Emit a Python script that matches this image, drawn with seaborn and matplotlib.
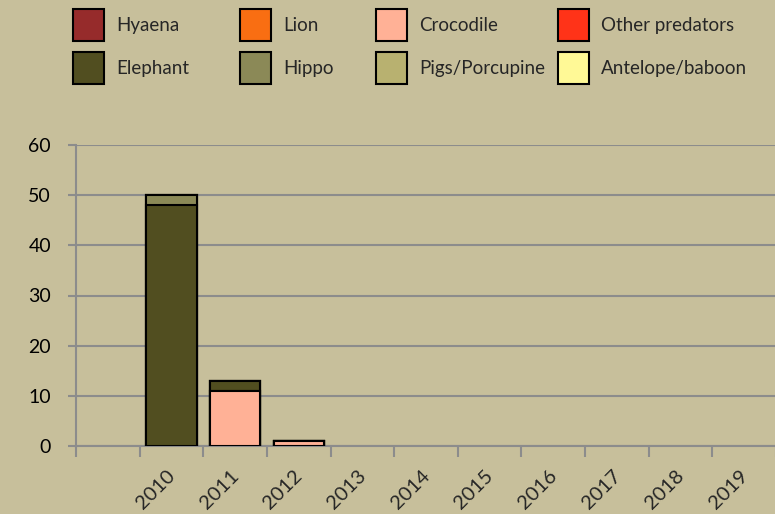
import numpy as np
import pandas as pd
import matplotlib.pyplot as plt
import matplotlib.patches as mpatches
import matplotlib.transforms as mtransforms
import seaborn as sns

# categories (first slot is empty in the source chart)
years = [" ", "2010", "2011", "2012", "2013", "2014", "2015", "2016", "2017", "2018", "2019"]

species = ["Hyaena", "Lion", "Crocodile", "Other predators",
           "Elephant", "Hippo", "Pigs/Porcupine", "Antelope/baboon"]
colors = ["#962B2B", "#F96E12", "#FFB196", "#FF3318",
          "#514E20", "#8B8957", "#B8B170", "#FFF996"]

hyaena    = [0, 0, 0, 0, 0, 0, 0, 0, 0, 0, 0]
lion      = [0, 0, 0, 0, 0, 0, 0, 0, 0, 0, 0]
crocodile = [0, 0, 11, 1, 0, 0, 0, 0, 0, 0, 0]
other     = [0, 0, 0, 0, 0, 0, 0, 0, 0, 0, 0]
elephant  = [0, 48, 2, 0, 0, 0, 0, 0, 0, 0, 0]
hippo     = [0, 2, 0, 0, 0, 0, 0, 0, 0, 0, 0]
pigs      = [0, 0, 0, 0, 0, 0, 0, 0, 0, 0, 0]
antelope  = [0, 0, 0, 0, 0, 0, 0, 0, 0, 0, 0]

layers = [hyaena, lion, crocodile, other, elephant, hippo, pigs, antelope]

bg = "#C7BF9B"
grid_col = "#8C8C8C"

sns.set_theme(style="white")
plt.rcParams['font.family'] = ['Lato', 'DejaVu Sans']

fig = plt.figure(figsize=(7.75, 5.14), dpi=100, facecolor=bg)
ax = fig.add_axes([76/775, 68/514, 700/775, 301/514])
ax.set_facecolor(bg)

# stacked bars: draw cumulative totals from top layer down
cum = np.cumsum(np.array(layers), axis=0)
for i in reversed(range(len(layers))):
    df = pd.DataFrame({"year": years, "val": cum[i]})
    df = df[df["val"] > 0]
    if df.empty:
        continue
    sns.barplot(data=df, x="year", y="val", order=years, color=colors[i],
                saturation=1, width=0.79, edgecolor="black", linewidth=1.5,
                ax=ax, zorder=3)

ax.set_ylim(0, 60)
ax.set_xlim(-0.5, 10.5)
ax.set_yticks(range(0, 61, 10))
ax.yaxis.grid(True, color=grid_col, linewidth=1.5)
ax.set_axisbelow(True)
ax.set_xlabel("")
ax.set_ylabel("")

for s in ["top", "right"]:
    ax.spines[s].set_visible(False)
for s in ["left", "bottom"]:
    ax.spines[s].set_color(grid_col)
    ax.spines[s].set_linewidth(1.5)

ax.tick_params(axis="y", length=6, width=1.5, color=grid_col, labelsize=14,
               pad=12, labelcolor="black", left=True)
ax.set_xticks(range(len(years)))
ax.set_xticklabels(["" if y.strip() == "" else y for y in years], rotation=45,
                   ha="right", rotation_mode="anchor", fontsize=14.5)
ax.tick_params(axis="x", which="major", length=0, pad=15)
ax.set_xticks(np.arange(-0.5, 10.6, 1), minor=True)
ax.tick_params(axis="x", which="minor", length=8, width=1.5, color=grid_col, bottom=True)
shift = mtransforms.ScaledTranslation(-5/100, 0, fig.dpi_scale_trans)
for lab in ax.get_xticklabels():
    lab.set_transform(lab.get_transform() + shift)

# legend: four columns of two entries, placed one column at a time
handles = [mpatches.Patch(facecolor=c, edgecolor="black", linewidth=1.5, label=s)
           for s, c in zip(species, colors)]
col_x = [73, 240, 376, 558]
for j, x0 in enumerate(col_x):
    fig.legend(handles=[handles[j], handles[j + 4]], loc="upper left",
               bbox_to_anchor=(x0/775, 1 - 9/514), ncol=1, frameon=False,
               fontsize=13.5, borderpad=0, borderaxespad=0,
               handlelength=1.65, handleheight=2.25, handletextpad=0.64,
               labelspacing=0.59)

fig.savefig("out.png", dpi=100, facecolor=bg)
